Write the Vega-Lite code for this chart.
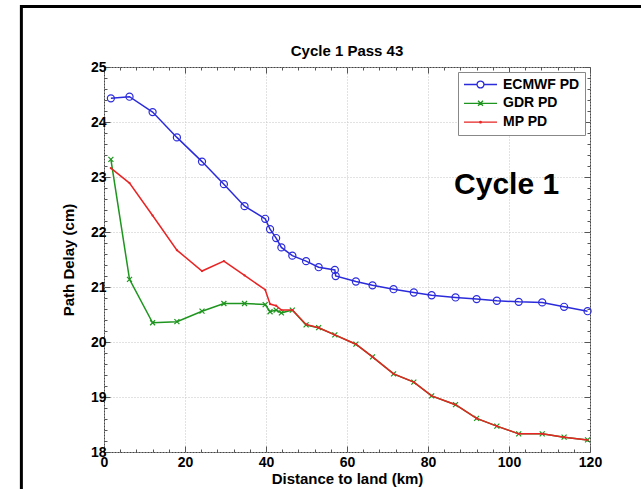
{
  "$schema": "https://vega.github.io/schema/vega-lite/v6.json",
  "width": 486,
  "height": 385,
  "autosize": {"type": "none"},
  "padding": {"left": 104, "top": 67, "right": 51, "bottom": 37},
  "background": "white",
  "title": {"text": "Cycle 1 Pass 43", "fontSize": 15, "fontWeight": "bold", "font": "Liberation Sans", "color": "black", "frame": "group", "anchor": "middle", "offset": -54},
  "config": {
    "font": "Liberation Sans",
    "view": {"stroke": "#444", "strokeWidth": 1},
    "axis": {"labelFont": "Liberation Sans", "labelFontSize": 14, "labelFontWeight": "bold", "labelColor": "black", "titleFont": "Liberation Sans", "titleFontSize": 15, "titleFontWeight": "bold", "titleColor": "black", "domain": false, "tickColor": "#555", "labelOverlap": false, "labelFlush": false}
  },
  "data": {"values": [
    {"series": "ECMWF PD", "x": 1.7, "y": 24.43},
    {"series": "ECMWF PD", "x": 6.3, "y": 24.46},
    {"series": "ECMWF PD", "x": 12.0, "y": 24.18},
    {"series": "ECMWF PD", "x": 18.0, "y": 23.72},
    {"series": "ECMWF PD", "x": 24.2, "y": 23.28},
    {"series": "ECMWF PD", "x": 29.6, "y": 22.87},
    {"series": "ECMWF PD", "x": 34.7, "y": 22.47},
    {"series": "ECMWF PD", "x": 39.8, "y": 22.24},
    {"series": "ECMWF PD", "x": 41.0, "y": 22.05},
    {"series": "ECMWF PD", "x": 42.5, "y": 21.89},
    {"series": "ECMWF PD", "x": 43.8, "y": 21.72},
    {"series": "ECMWF PD", "x": 46.5, "y": 21.57},
    {"series": "ECMWF PD", "x": 49.9, "y": 21.47},
    {"series": "ECMWF PD", "x": 53.0, "y": 21.36},
    {"series": "ECMWF PD", "x": 57.0, "y": 21.31},
    {"series": "ECMWF PD", "x": 57.2, "y": 21.20},
    {"series": "ECMWF PD", "x": 62.2, "y": 21.10},
    {"series": "ECMWF PD", "x": 66.3, "y": 21.03},
    {"series": "ECMWF PD", "x": 71.5, "y": 20.96},
    {"series": "ECMWF PD", "x": 76.5, "y": 20.90},
    {"series": "ECMWF PD", "x": 80.9, "y": 20.85},
    {"series": "ECMWF PD", "x": 86.8, "y": 20.81},
    {"series": "ECMWF PD", "x": 92.0, "y": 20.78},
    {"series": "ECMWF PD", "x": 97.0, "y": 20.75},
    {"series": "ECMWF PD", "x": 102.4, "y": 20.73},
    {"series": "ECMWF PD", "x": 108.2, "y": 20.72},
    {"series": "ECMWF PD", "x": 113.6, "y": 20.64},
    {"series": "ECMWF PD", "x": 119.4, "y": 20.56},
    {"series": "GDR PD", "x": 1.7, "y": 23.32},
    {"series": "GDR PD", "x": 6.3, "y": 21.14},
    {"series": "GDR PD", "x": 12.0, "y": 20.35},
    {"series": "GDR PD", "x": 18.0, "y": 20.37},
    {"series": "GDR PD", "x": 24.2, "y": 20.56},
    {"series": "GDR PD", "x": 29.6, "y": 20.70},
    {"series": "GDR PD", "x": 34.7, "y": 20.70},
    {"series": "GDR PD", "x": 39.8, "y": 20.68},
    {"series": "GDR PD", "x": 41.0, "y": 20.55},
    {"series": "GDR PD", "x": 42.5, "y": 20.58},
    {"series": "GDR PD", "x": 43.8, "y": 20.53},
    {"series": "GDR PD", "x": 46.5, "y": 20.58},
    {"series": "GDR PD", "x": 49.9, "y": 20.31},
    {"series": "GDR PD", "x": 53.0, "y": 20.26},
    {"series": "GDR PD", "x": 57.0, "y": 20.13},
    {"series": "GDR PD", "x": 62.2, "y": 19.96},
    {"series": "GDR PD", "x": 66.3, "y": 19.73},
    {"series": "GDR PD", "x": 71.5, "y": 19.42},
    {"series": "GDR PD", "x": 76.5, "y": 19.27},
    {"series": "GDR PD", "x": 80.9, "y": 19.02},
    {"series": "GDR PD", "x": 86.8, "y": 18.86},
    {"series": "GDR PD", "x": 92.0, "y": 18.61},
    {"series": "GDR PD", "x": 97.0, "y": 18.47},
    {"series": "GDR PD", "x": 102.4, "y": 18.33},
    {"series": "GDR PD", "x": 108.2, "y": 18.33},
    {"series": "GDR PD", "x": 113.6, "y": 18.27},
    {"series": "GDR PD", "x": 119.4, "y": 18.22},
    {"series": "MP PD", "x": 1.7, "y": 23.16},
    {"series": "MP PD", "x": 6.3, "y": 22.89},
    {"series": "MP PD", "x": 12.0, "y": 22.30},
    {"series": "MP PD", "x": 18.0, "y": 21.67},
    {"series": "MP PD", "x": 24.2, "y": 21.29},
    {"series": "MP PD", "x": 29.6, "y": 21.47},
    {"series": "MP PD", "x": 34.7, "y": 21.21},
    {"series": "MP PD", "x": 39.8, "y": 20.95},
    {"series": "MP PD", "x": 41.0, "y": 20.69},
    {"series": "MP PD", "x": 42.5, "y": 20.66},
    {"series": "MP PD", "x": 43.8, "y": 20.58},
    {"series": "MP PD", "x": 46.5, "y": 20.58},
    {"series": "MP PD", "x": 49.9, "y": 20.32},
    {"series": "MP PD", "x": 53.0, "y": 20.26},
    {"series": "MP PD", "x": 57.0, "y": 20.13},
    {"series": "MP PD", "x": 62.2, "y": 19.96},
    {"series": "MP PD", "x": 66.3, "y": 19.73},
    {"series": "MP PD", "x": 71.5, "y": 19.42},
    {"series": "MP PD", "x": 76.5, "y": 19.27},
    {"series": "MP PD", "x": 80.9, "y": 19.02},
    {"series": "MP PD", "x": 86.8, "y": 18.86},
    {"series": "MP PD", "x": 92.0, "y": 18.61},
    {"series": "MP PD", "x": 97.0, "y": 18.47},
    {"series": "MP PD", "x": 102.4, "y": 18.33},
    {"series": "MP PD", "x": 108.2, "y": 18.33},
    {"series": "MP PD", "x": 113.6, "y": 18.27},
    {"series": "MP PD", "x": 119.4, "y": 18.22}
  ]},
  "layer": [
    {
      "layer": [
        {
          "transform": [{"filter": "datum.series === 'ECMWF PD'"}],
          "mark": {"type": "line", "color": "#2b2bdb", "strokeWidth": 1.5},
          "encoding": {
            "x": {"field": "x", "type": "quantitative", "scale": {"domain": [0, 120], "nice": false, "zero": false},
              "axis": {"orient": "bottom", "title": "Distance to land (km)", "titlePadding": -1, "tickCount": 200,
                "values": [0,4,8,12,16,20,24,28,32,36,40,44,48,52,56,60,64,68,72,76,80,84,88,92,96,100,104,108,112,116,120],
                "labelExpr": "datum.value % 20 === 0 ? format(datum.value, 'd') : ''",
                "labelPadding": 9,
                "grid": true, "gridColor": "#c4c4c4", "gridDash": [1, 2],
                "gridOpacity": {"condition": {"test": "datum.value % 20 === 0", "value": 1}, "value": 0},
                "tickSize": {"condition": {"test": "datum.value % 20 === 0", "value": -6}, "value": -3}}},
            "y": {"field": "y", "type": "quantitative", "scale": {"domain": [18, 25], "nice": false, "zero": false},
              "axis": {"orient": "left", "title": "Path Delay (cm)", "titlePadding": 14, "tickCount": 200,
                "values": [18,18.2,18.4,18.6,18.8,19,19.2,19.4,19.6,19.8,20,20.2,20.4,20.6,20.8,21,21.2,21.4,21.6,21.8,22,22.2,22.4,22.6,22.8,23,23.2,23.4,23.6,23.8,24,24.2,24.4,24.6,24.8,25],
                "labelExpr": "abs(datum.value - round(datum.value)) < 0.01 ? format(datum.value, 'd') : ''",
                "labelPadding": 4,
                "grid": true, "gridColor": "#c4c4c4", "gridDash": [1, 2],
                "gridOpacity": {"condition": {"test": "abs(datum.value - round(datum.value)) < 0.01", "value": 1}, "value": 0},
                "tickSize": {"condition": {"test": "abs(datum.value - round(datum.value)) < 0.01", "value": -6}, "value": -3}}}
          }
        },
        {
          "transform": [{"filter": "datum.series === 'ECMWF PD'"}],
          "mark": {"type": "point", "shape": "circle", "filled": false, "size": 50, "strokeWidth": 1.2, "color": "#2b2bdb", "opacity": 1},
          "encoding": {"x": {"field": "x", "type": "quantitative"}, "y": {"field": "y", "type": "quantitative"}}
        },
        {
          "transform": [{"filter": "datum.series === 'GDR PD'"}],
          "mark": {"type": "line", "color": "#1e951e", "strokeWidth": 1.5},
          "encoding": {"x": {"field": "x", "type": "quantitative"}, "y": {"field": "y", "type": "quantitative"}}
        },
        {
          "transform": [{"filter": "datum.series === 'GDR PD'"}],
          "mark": {"type": "point", "shape": "M-1,-1L1,1M-1,1L1,-1", "filled": false, "size": 25, "strokeWidth": 1.2, "color": "#1e951e", "opacity": 1},
          "encoding": {"x": {"field": "x", "type": "quantitative"}, "y": {"field": "y", "type": "quantitative"}}
        },
        {
          "transform": [{"filter": "datum.series === 'MP PD'"}],
          "mark": {"type": "line", "color": "#e82424", "strokeWidth": 1.5},
          "encoding": {"x": {"field": "x", "type": "quantitative"}, "y": {"field": "y", "type": "quantitative"}}
        },
        {
          "transform": [{"filter": "datum.series === 'MP PD'"}],
          "mark": {"type": "point", "shape": "circle", "filled": true, "size": 5, "color": "#e82424", "opacity": 1},
          "encoding": {"x": {"field": "x", "type": "quantitative"}, "y": {"field": "y", "type": "quantitative"}}
        },
        {
          "transform": [{"filter": "false"}],
          "mark": {"type": "point", "filled": false, "strokeWidth": 1.3, "opacity": 1},
          "encoding": {
            "x": {"field": "x", "type": "quantitative"},
            "y": {"field": "y", "type": "quantitative"},
            "color": {"field": "series", "type": "nominal",
              "scale": {"domain": ["ECMWF PD", "GDR PD", "MP PD"], "range": ["#2b2bdb", "#1e951e", "#e82424"]},
              "legend": {"title": null, "orient": "top-right", "offset": 5, "padding": 5, "strokeColor": "#888", "fillColor": "white",
                "symbolSize": 1089, "symbolStrokeWidth": 1.3, "symbolOpacity": 1,
                "labelFont": "Liberation Sans", "labelFontSize": 14, "labelFontWeight": "bold", "labelColor": "black",
                "labelOffset": 5, "clipHeight": 15, "rowPadding": 3.8}},
            "shape": {"field": "series", "type": "nominal",
              "scale": {"domain": ["ECMWF PD", "GDR PD", "MP PD"],
                "range": ["M-1,0H-0.21M0.21,0H1M0.21,0A0.21,0.21 0 1 1 -0.21,0A0.21,0.21 0 1 1 0.21,0",
                          "M-1,0H1M-0.15,-0.15L0.15,0.15M-0.15,0.15L0.15,-0.15",
                          "M-1,0H1M0.05,0A0.05,0.05 0 1 1 -0.05,0A0.05,0.05 0 1 1 0.05,0"]}}
          }
        },
        {
          "data": {"values": [{}]},
          "mark": {"type": "text", "text": "Cycle 1", "font": "Liberation Sans", "fontSize": 30, "fontWeight": "bold", "color": "black", "align": "center", "baseline": "middle"},
          "encoding": {"x": {"datum": 99.4, "type": "quantitative"}, "y": {"datum": 22.85, "type": "quantitative"}}
        },
        {
          "data": {"values": [{}]},
          "mark": {"type": "rect", "fill": null, "fillOpacity": 0, "stroke": "black", "strokeWidth": 3, "clip": false},
          "encoding": {"x": {"datum": -20.4, "type": "quantitative"}, "x2": {"datum": 160}, "y": {"datum": 26.1, "type": "quantitative"}, "y2": {"datum": 15}}
        }
      ]
    },
    {
      "mark": {"type": "point", "opacity": 0},
      "encoding": {
        "x": {"field": "x", "type": "quantitative",
          "axis": {"orient": "top", "title": null, "labels": false, "grid": false, "tickCount": 200,
            "values": [0,4,8,12,16,20,24,28,32,36,40,44,48,52,56,60,64,68,72,76,80,84,88,92,96,100,104,108,112,116,120],
            "tickSize": {"condition": {"test": "datum.value % 20 === 0", "value": -6}, "value": -3}}},
        "y": {"field": "y", "type": "quantitative",
          "axis": {"orient": "right", "title": null, "labels": false, "grid": false, "tickCount": 200,
            "values": [18,18.2,18.4,18.6,18.8,19,19.2,19.4,19.6,19.8,20,20.2,20.4,20.6,20.8,21,21.2,21.4,21.6,21.8,22,22.2,22.4,22.6,22.8,23,23.2,23.4,23.6,23.8,24,24.2,24.4,24.6,24.8,25],
            "tickSize": {"condition": {"test": "abs(datum.value - round(datum.value)) < 0.01", "value": -6}, "value": -3}}}
      }
    }
  ],
  "resolve": {"axis": {"x": "independent", "y": "independent"}}
}
